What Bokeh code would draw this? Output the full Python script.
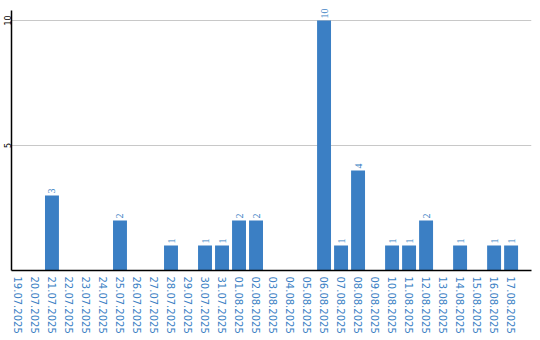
import math
from bokeh.plotting import figure
from bokeh.models import Range1d, FixedTicker, ColumnDataSource, LabelSet
from bokeh.embed import file_html
from bokeh.resources import INLINE

dates = ["19.07.2025", "20.07.2025", "21.07.2025", "22.07.2025", "23.07.2025",
         "24.07.2025", "25.07.2025", "26.07.2025", "27.07.2025", "28.07.2025",
         "29.07.2025", "30.07.2025", "31.07.2025", "01.08.2025", "02.08.2025",
         "03.08.2025", "04.08.2025", "05.08.2025", "06.08.2025", "07.08.2025",
         "08.08.2025", "09.08.2025", "10.08.2025", "11.08.2025", "12.08.2025",
         "13.08.2025", "14.08.2025", "15.08.2025", "16.08.2025", "17.08.2025"]
counts = [0, 0, 3, 0, 0, 0, 2, 0, 0, 1,
          0, 1, 1, 2, 2, 0, 0, 0, 10, 1,
          4, 0, 1, 1, 2, 0, 1, 0, 1, 1]
y_ticks = [5, 10]

BLUE = "#3b7fc4"

idx = list(range(len(dates)))
src = ColumnDataSource(dict(x=idx, top=counts))
lab_x = [i for i, c in zip(idx, counts) if c > 0]
lab_y = [c for c in counts if c > 0]
lab_src = ColumnDataSource(dict(x=lab_x, y=lab_y, t=[str(c) for c in lab_y]))

p = figure(width=540, height=340, output_backend="svg", toolbar_location=None,
           x_range=Range1d(-0.38, 30.2), y_range=Range1d(0, 10.8),
           min_border_left=11, min_border_right=9, min_border_top=0,
           min_border_bottom=70)
p.outline_line_color = None
p.background_fill_color = "white"
p.border_fill_color = "white"

p.vbar(x="x", top="top", width=0.82, source=src, fill_color=BLUE,
       line_color=None)

labels = LabelSet(x="x", y="y", text="t", source=lab_src, angle=math.pi / 2,
                  text_align="left", text_baseline="middle", y_offset=2,
                  text_color=BLUE, text_font_size="10px",
                  text_font="DejaVu Sans")
p.add_layout(labels)

# x axis
p.xaxis.ticker = FixedTicker(ticks=idx)
p.xaxis.major_label_overrides = {i: d for i, d in zip(idx, dates)}
p.xaxis.major_label_orientation = "vertical"
p.xaxis.major_label_text_font_size = "10px"
p.xaxis.major_label_text_font = "DejaVu Sans"
p.xaxis.major_label_text_color = BLUE
p.xaxis.major_label_standoff = 6
p.xaxis.major_tick_out = 0
p.xaxis.major_tick_in = 0
p.xaxis.minor_tick_out = 0
p.xaxis.minor_tick_in = 0
p.xaxis.axis_line_color = "black"
p.xaxis.axis_line_width = 1.5
p.xgrid.grid_line_color = None

# y axis
p.yaxis.ticker = FixedTicker(ticks=y_ticks)
p.yaxis.bounds = (0, 10.4)
p.yaxis.major_label_orientation = "vertical"
p.yaxis.major_label_text_font_size = "8px"
p.yaxis.major_label_text_font = "DejaVu Sans"
p.yaxis.major_label_text_color = "black"
p.yaxis.major_label_standoff = 1
p.yaxis.major_tick_out = 0
p.yaxis.major_tick_in = 0
p.yaxis.minor_tick_out = 0
p.yaxis.minor_tick_in = 0
p.yaxis.axis_line_color = "black"
p.yaxis.axis_line_width = 1.5
p.ygrid.ticker = FixedTicker(ticks=y_ticks)
p.ygrid.grid_line_color = "#c8c8c8"
p.ygrid.grid_line_width = 1

open("out.html", "w").write(file_html(p, INLINE))
